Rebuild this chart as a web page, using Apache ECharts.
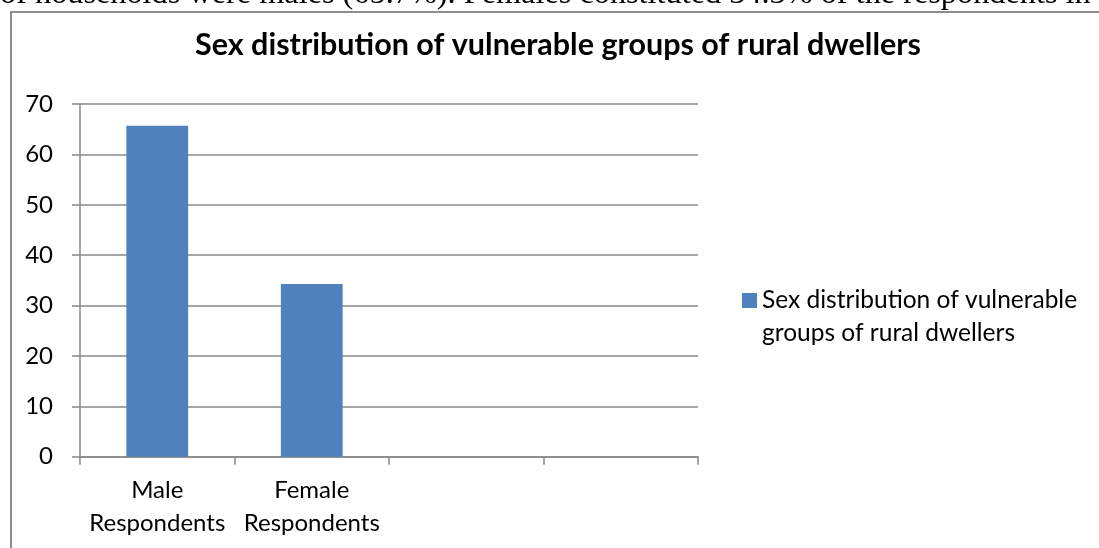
<!DOCTYPE html>
<html>
<head>
<meta charset="utf-8">
<script src="https://cdn.jsdelivr.net/npm/echarts@6/dist/echarts.min.js"></script>
<style>
  html, body { margin: 0; padding: 0; background: #ffffff; }
  #chart { width: 1099px; height: 548px; }
</style>
</head>
<body>
<div id="chart"></div>
<script>
// Categories along the x axis (two empty slots follow the two respondent groups)
const categories = ['Male\nRespondents', 'Female\nRespondents', '', ''];
// Percentage of respondents in each group
const values = [65.7, 34.3, null, null];
const seriesName = 'Sex distribution of vulnerable groups of rural dwellers';
const legendLines = ['Sex distribution of vulnerable', 'groups of rural dwellers'];
const chartTitle = 'Sex distribution of vulnerable groups of rural dwellers';
// Value axis range and step
const yMin = 0;
const yMax = 70;
const yStep = 10;
// Running text of the page just above the chart frame
const bodyText = 'of households were males (65.7%). Females constituted 34.3% of the respondents in';

const sansFont = 'Lato, "Noto Sans", sans-serif';
const gridGrey = '#888888';

const chart = echarts.init(document.getElementById('chart'), null, { renderer: 'canvas' });

chart.setOption({
  animation: false,
  backgroundColor: '#ffffff',
  title: {
    text: chartTitle,
    left: 553,
    top: 25,
    textAlign: 'center',
    textStyle: { fontFamily: sansFont, fontWeight: 'bold', fontSize: 30.5, color: '#000000' }
  },
  graphic: [
    {
      type: 'rect',
      z: -10,
      shape: { x: 11, y: 12, width: 1200, height: 600 },
      style: { fill: 'none', stroke: '#8c8c8c', lineWidth: 2 }
    },
    {
      type: 'text',
      x: 0,
      y: 11,
      style: {
        text: bodyText,
        fontFamily: '"Liberation Serif", "Times New Roman", serif',
        fontSize: 32.3,
        fill: '#000000',
        verticalAlign: 'bottom'
      }
    }
  ],
  grid: { left: 80, right: 401, top: 104, bottom: 91.3, containLabel: false },
  legend: {
    left: 737,
    top: 246,
    orient: 'vertical',
    icon: 'rect',
    itemWidth: 15,
    itemHeight: 15,
    itemGap: 6,
    // leading blank line keeps the marker level with the first line of text
    formatter: () => '\n' + legendLines.join('\n'),
    textStyle: {
      fontFamily: sansFont,
      fontSize: 24.5,
      lineHeight: 33,
      color: '#000000'
    },
    data: [seriesName]
  },
  xAxis: {
    type: 'category',
    data: categories,
    boundaryGap: true,
    axisLine: { show: true, lineStyle: { color: gridGrey, width: 1.5 } },
    axisTick: { show: true, interval: 0, alignWithLabel: false, length: 8, lineStyle: { color: gridGrey, width: 1.5 } },
    axisLabel: {
      interval: 0,
      margin: 17,
      fontFamily: sansFont,
      fontSize: 24,
      lineHeight: 33,
      color: '#000000'
    }
  },
  yAxis: {
    type: 'value',
    min: yMin,
    max: yMax,
    interval: yStep,
    axisLine: { show: true, lineStyle: { color: gridGrey, width: 1.5 } },
    axisTick: { show: true, length: 8, lineStyle: { color: gridGrey, width: 1.5 } },
    axisLabel: { margin: 27, fontFamily: sansFont, fontSize: 24, color: '#000000' },
    splitLine: { show: true, lineStyle: { color: gridGrey, width: 1.5 } }
  },
  series: [
    {
      name: seriesName,
      type: 'bar',
      data: values,
      barWidth: '40%',
      itemStyle: { color: '#4f81bd' }
    }
  ]
});
</script>
</body>
</html>
